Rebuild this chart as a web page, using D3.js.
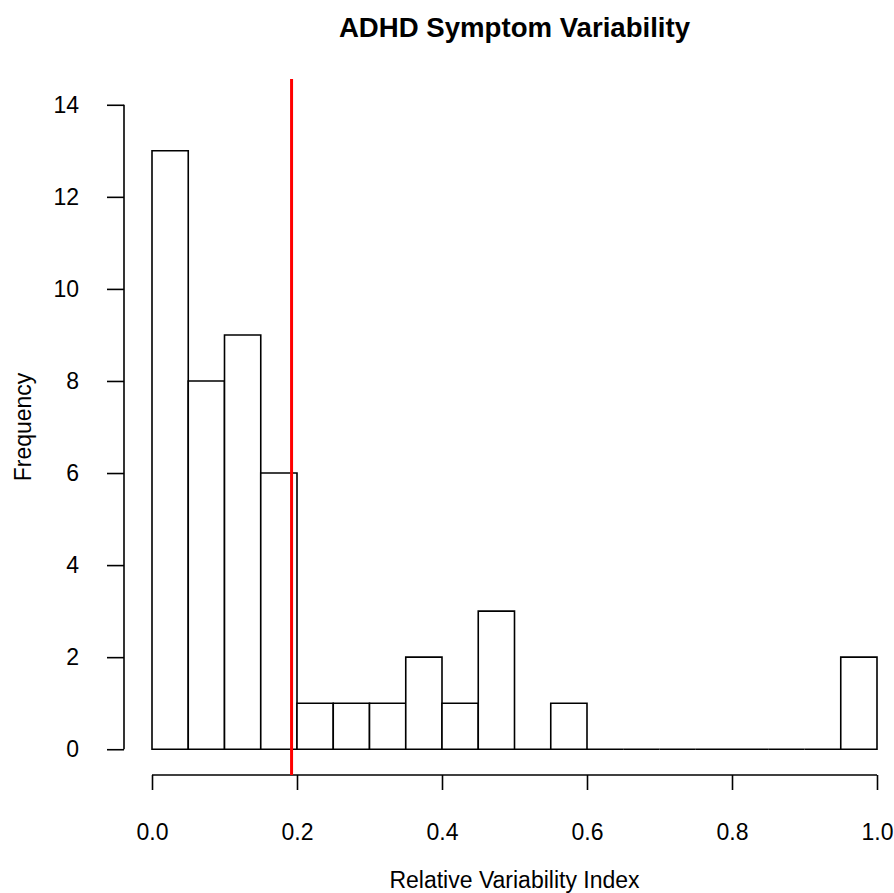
<!DOCTYPE html>
<html>
<head>
<meta charset="utf-8">
<script src="https://cdn.jsdelivr.net/npm/d3@7"></script>
<style>
  body { margin: 0; background: #fff; }
  svg text { font-family: "Liberation Sans", Arial, sans-serif; fill: #000; }
</style>
</head>
<body>
<svg id="chart" width="894" height="893"></svg>
<script>
// histogram bins (left edges) and counts
const binStarts = [0.00, 0.05, 0.10, 0.15, 0.20, 0.25, 0.30, 0.35, 0.40, 0.45,
                   0.50, 0.55, 0.60, 0.65, 0.70, 0.75, 0.80, 0.85, 0.90, 0.95]
const binWidth = 0.05
const counts = [13, 8, 9, 6, 1, 1, 1, 2, 1, 3,
                0, 1, 0, 0, 0, 0, 0, 0, 0, 2]
const xTicks = [0.0, 0.2, 0.4, 0.6, 0.8, 1.0]
const yTicks = [0, 2, 4, 6, 8, 10, 12, 14]
const cutoff = 0.1925

const svg = d3.select("#chart")

// plot region like R (4% padding on each side)
const x = d3.scaleLinear().domain([-0.04, 1.04]).range([123, 906])
const y = d3.scaleLinear().domain([-0.56, 14.56]).range([775, 79])

// bars (zero-count bins still show as a flat line, like R)
const bars = svg.append("g")
bars.selectAll("path")
  .data(binStarts)
  .join("path")
  .attr("d", (d, i) => {
    const x0 = x(d), x1 = x(d + binWidth), y0 = y(0), y1 = y(counts[i])
    return `M${x0},${y0}V${y1}H${x1}V${y0}Z`
  })
  .attr("fill", "#fff")
  .attr("stroke", "#000")
  .attr("stroke-width", 1.6)

// y axis
const yAxis = svg.append("g")
  .attr("transform", `translate(${x(-0.04) + 1},0)`)
  .call(d3.axisLeft(y).tickValues(yTicks).tickSize(17).tickPadding(28).tickFormat(d3.format("d")))
yAxis.select(".domain").remove()
yAxis.append("line")
  .attr("y1", y(0)).attr("y2", y(14))
  .attr("stroke", "#000").attr("stroke-width", 1.6)
yAxis.selectAll(".tick line").attr("stroke-width", 1.6)
yAxis.selectAll("text").attr("font-size", 23).attr("fill", "#000")

// x axis
const xAxis = svg.append("g")
  .attr("transform", `translate(0,${y(-0.56)})`)
  .call(d3.axisBottom(x).tickValues(xTicks).tickSize(15).tickPadding(34).tickFormat(d3.format(".1f")))
xAxis.select(".domain").remove()
xAxis.append("line")
  .attr("x1", x(0)).attr("x2", x(1))
  .attr("stroke", "#000").attr("stroke-width", 1.6)
xAxis.selectAll(".tick line").attr("stroke-width", 1.6)
xAxis.selectAll("text").attr("font-size", 23).attr("fill", "#000")

// cutoff line
svg.append("line")
  .attr("x1", x(cutoff)).attr("x2", x(cutoff))
  .attr("y1", y(14.56)).attr("y2", y(-0.56))
  .attr("stroke", "#ff0000")
  .attr("stroke-width", 3)

// titles
svg.append("text")
  .attr("x", (x(-0.04) + x(1.04)) / 2)
  .attr("y", 37)
  .attr("text-anchor", "middle")
  .attr("font-size", 27.6)
  .attr("font-weight", "bold")
  .text("ADHD Symptom Variability")

svg.append("text")
  .attr("x", (x(-0.04) + x(1.04)) / 2)
  .attr("y", 888)
  .attr("text-anchor", "middle")
  .attr("font-size", 23)
  .text("Relative Variability Index")

svg.append("text")
  .attr("transform", `translate(31,${(y(-0.56) + y(14.56)) / 2}) rotate(-90)`)
  .attr("text-anchor", "middle")
  .attr("font-size", 23)
  .text("Frequency")
</script>
</body>
</html>
